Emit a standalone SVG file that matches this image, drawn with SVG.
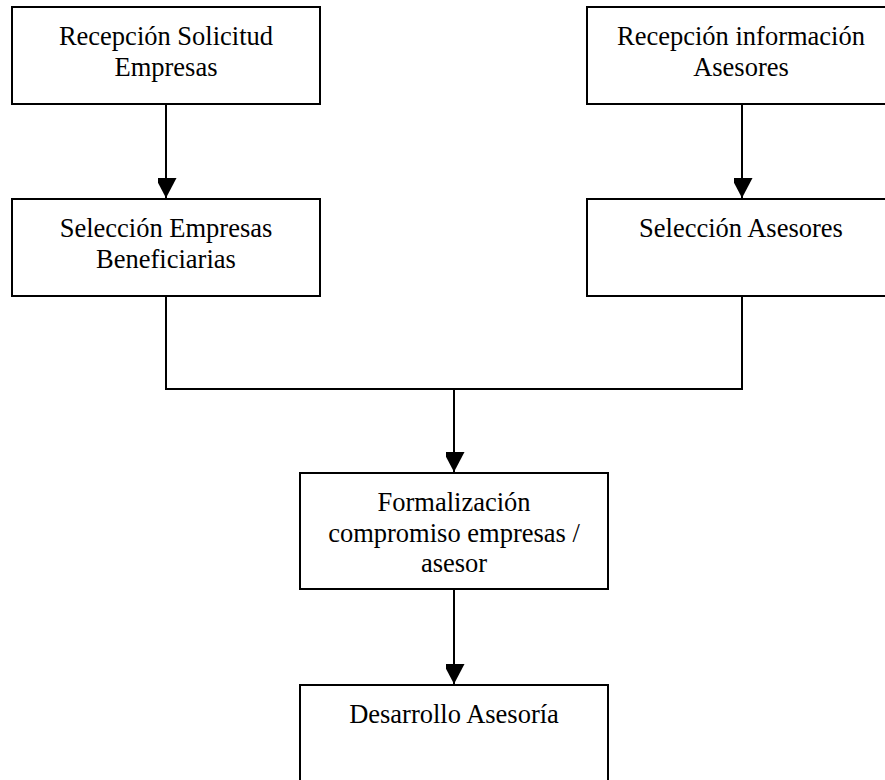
<svg xmlns="http://www.w3.org/2000/svg" width="885" height="780" viewBox="0 0 885 780">
<defs>
<style>
.box{fill:#fff;stroke:#000;stroke-width:2}
.lbl{font-family:"Liberation Serif","Times New Roman",serif;font-size:26.5px;fill:#000;text-anchor:middle}
.ln{fill:none;stroke:#000;stroke-width:2}
</style>
<marker id="ah" markerWidth="21" markerHeight="19" refX="20" refY="10.5" orient="auto" markerUnits="userSpaceOnUse">
<path d="M0,0 L20,10.5 L0,21 Z" fill="#000"/>
</marker>
</defs>
<rect width="885" height="780" fill="#fff"/>
<g id="connectors">
<line class="ln" x1="166" y1="104" x2="166" y2="198" marker-end="url(#ah)"/>
<line class="ln" x1="742" y1="104" x2="742" y2="198" marker-end="url(#ah)"/>
<polyline class="ln" points="166,296 166,389 742,389 742,296"/>
<line class="ln" x1="454" y1="389" x2="454" y2="472" marker-end="url(#ah)"/>
<line class="ln" x1="454" y1="589" x2="454" y2="684" marker-end="url(#ah)"/>
</g>
<g id="n1">
<rect class="box" x="12" y="7" width="308" height="97"/>
<text class="lbl" x="166" y="45">Recepción Solicitud</text>
<text class="lbl" x="166" y="76">Empresas</text>
</g>
<g id="n2">
<rect class="box" x="587" y="7" width="308" height="97"/>
<text class="lbl" x="741" y="45">Recepción información</text>
<text class="lbl" x="741" y="76">Asesores</text>
</g>
<g id="n3">
<rect class="box" x="12" y="199" width="308" height="97"/>
<text class="lbl" x="166" y="237">Selección Empresas</text>
<text class="lbl" x="166" y="268">Beneficiarias</text>
</g>
<g id="n4">
<rect class="box" x="587" y="199" width="308" height="97"/>
<text class="lbl" x="741" y="237">Selección Asesores</text>
</g>
<g id="n5">
<rect class="box" x="300" y="473" width="308" height="116"/>
<text class="lbl" x="454" y="511">Formalización</text>
<text class="lbl" x="454" y="542">compromiso empresas /</text>
<text class="lbl" x="454" y="572">asesor</text>
</g>
<g id="n6">
<rect class="box" x="300" y="685" width="308" height="110"/>
<text class="lbl" x="454" y="723">Desarrollo Asesoría</text>
</g>
</svg>
